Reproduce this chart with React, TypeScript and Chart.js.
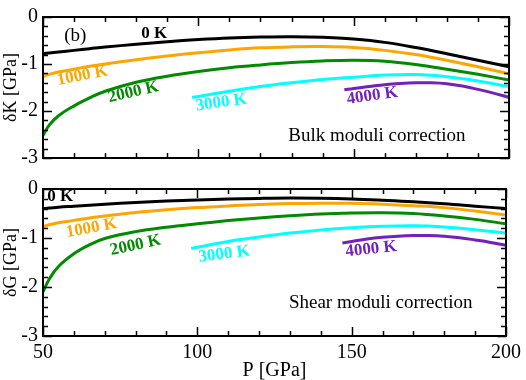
import React, { useEffect, useRef } from 'react';
import { Chart, registerables } from 'chart.js';

Chart.register(...registerables);

const FONT = '"Liberation Serif", "Times New Roman", Times, serif';

// Pressure grids (GPa)
const P_LOW = [50, 52, 55, 60, 65, 70, 80, 90, 100, 110, 120, 130, 140, 150, 160, 170, 180, 190, 200];
const P_3000 = [98, 100, 110, 120, 130, 140, 150, 160, 170, 180, 190, 200];
const P_4000 = [147, 150, 155, 160, 165, 170, 175, 180, 185, 190, 195, 200];

// Bulk moduli correction δK [GPa]
const K_0K = [-0.78, -0.765, -0.745, -0.71, -0.675, -0.64, -0.58, -0.525, -0.48, -0.445, -0.425, -0.418, -0.43, -0.47, -0.54, -0.65, -0.78, -0.92, -1.06];
const K_1000K = [-1.26, -1.22, -1.17, -1.11, -1.05, -1.0, -0.91, -0.83, -0.76, -0.7, -0.655, -0.635, -0.63, -0.65, -0.71, -0.8, -0.92, -1.06, -1.21];
const K_2000K = [-2.52, -2.3, -2.1, -1.89, -1.72, -1.58, -1.39, -1.26, -1.16, -1.08, -1.02, -0.97, -0.935, -0.92, -0.94, -1.01, -1.11, -1.22, -1.34];
const K_3000K = [-1.71, -1.69, -1.58, -1.48, -1.4, -1.33, -1.28, -1.235, -1.225, -1.27, -1.36, -1.48];
const K_4000K = [-1.55, -1.52, -1.48, -1.44, -1.415, -1.4, -1.4, -1.42, -1.47, -1.54, -1.62, -1.71];

// Shear moduli correction δG [GPa]
const G_0K = [-0.4, -0.39, -0.37, -0.35, -0.33, -0.31, -0.275, -0.245, -0.222, -0.205, -0.192, -0.185, -0.19, -0.205, -0.23, -0.26, -0.3, -0.35, -0.4];
const G_1000K = [-0.77, -0.73, -0.69, -0.64, -0.59, -0.55, -0.48, -0.425, -0.38, -0.345, -0.315, -0.298, -0.29, -0.292, -0.31, -0.34, -0.38, -0.45, -0.53];
const G_2000K = [-2.1, -1.84, -1.58, -1.32, -1.14, -1.01, -0.87, -0.78, -0.71, -0.645, -0.59, -0.545, -0.51, -0.49, -0.483, -0.5, -0.55, -0.62, -0.71];
const G_3000K = [-1.21, -1.19, -1.07, -0.98, -0.9, -0.835, -0.79, -0.762, -0.752, -0.775, -0.83, -0.9];
const G_4000K = [-1.1, -1.07, -1.02, -0.985, -0.962, -0.95, -0.95, -0.965, -0.995, -1.04, -1.09, -1.15];

const SERIES_NAMES = ['0 K', '1000 K', '2000 K', '3000 K', '4000 K'];
const COLORS = ['#000000', '#ffa500', '#008b00', '#00ffff', '#7221bc'];

const X_MIN = 50;
const X_MAX = 200;
const X_TICKS = [50, 100, 150, 200];
const Y_MIN = -3;
const Y_MAX = 0;
const Y_TICKS = [0, -1, -2, -3];

// annotation positions in data coordinates [text, P, value, rotationDeg, color, font]
const TOP_LABELS: [string, number, number, number, string, string][] = [
  ['(b)', 60.4, -0.41, 0, '#000', 'normal 19px'],
  ['0 K', 85.8, -0.35, 0, COLORS[0], 'bold 17px'],
  ['1000 K', 62.7, -1.25, -11, COLORS[1], 'bold 17px'],
  ['2000 K', 79.1, -1.6, -13, COLORS[2], 'bold 17px'],
  ['3000 K', 107.4, -1.82, -8, COLORS[3], 'bold 17px'],
  ['4000 K', 156.0, -1.68, -8, COLORS[4], 'bold 17px'],
  ['Bulk moduli correction', 157.5, -2.53, 0, '#000', 'normal 19px'],
];
const BOTTOM_LABELS: [string, number, number, number, string, string][] = [
  ['0 K', 55.6, -0.15, 0, COLORS[0], 'bold 17px'],
  ['1000 K', 65.7, -0.8, -10, COLORS[1], 'bold 17px'],
  ['2000 K', 80.0, -1.15, -12, COLORS[2], 'bold 17px'],
  ['3000 K', 108.7, -1.33, -7, COLORS[3], 'bold 17px'],
  ['4000 K', 156.3, -1.23, -6, COLORS[4], 'bold 17px'],
  ['Shear moduli correction', 159.4, -2.32, 0, '#000', 'normal 19px'],
];

function toXY(xs: number[], ys: number[]) {
  return xs.map((x, i) => ({ x, y: ys[i] }));
}

function buildDatasets(series: [number[], number[]][]) {
  return series.map(([xs, ys], i) => ({
    label: SERIES_NAMES[i],
    data: toXY(xs, ys),
    borderColor: COLORS[i],
    backgroundColor: COLORS[i],
    borderWidth: 3,
    pointRadius: 0,
    tension: 0.4,
    fill: false,
  }));
}

const framePlugin = {
  id: 'frameTicks',
  afterDatasetsDraw(chart: any) {
    const { ctx, chartArea: a, scales } = chart;
    const xs = scales.x;
    const ys = scales.y;
    ctx.save();
    ctx.strokeStyle = '#000';
    ctx.lineWidth = 1.5;
    ctx.beginPath();
    for (let v = X_MIN; v <= X_MAX; v += 10) {
      const len = v % 50 === 0 ? 9 : 5;
      const px = Math.round(xs.getPixelForValue(v)) + 0.5;
      ctx.moveTo(px, a.bottom);
      ctx.lineTo(px, a.bottom - len);
      ctx.moveTo(px, a.top);
      ctx.lineTo(px, a.top + len);
    }
    for (let i = 0; i <= 15; i++) {
      const v = -i * 0.2;
      const len = i % 5 === 0 ? 9 : 5;
      const py = Math.round(ys.getPixelForValue(v)) + 0.5;
      ctx.moveTo(a.left, py);
      ctx.lineTo(a.left + len, py);
      ctx.moveTo(a.right, py);
      ctx.lineTo(a.right - len, py);
    }
    ctx.stroke();
    ctx.lineWidth = 2;
    ctx.strokeRect(a.left, a.top, a.right - a.left, a.bottom - a.top);
    ctx.restore();
  },
};

const annotationPlugin = {
  id: 'annotations',
  afterDraw(chart: any, _args: any, opts: any) {
    const { ctx, chartArea: a, scales } = chart;
    ctx.save();
    ctx.save();
    ctx.beginPath();
    ctx.rect(a.left, a.top, a.right - a.left, a.bottom - a.top);
    ctx.clip();
    for (const [text, px, py, rot, color, font] of opts.labels as any[]) {
      const x = scales.x.getPixelForValue(px);
      const y = scales.y.getPixelForValue(py);
      ctx.save();
      ctx.translate(x, y);
      ctx.rotate((rot * Math.PI) / 180);
      ctx.font = `${font} ${FONT}`;
      ctx.fillStyle = color;
      ctx.textAlign = 'center';
      ctx.textBaseline = 'middle';
      ctx.fillText(text, 0, 0);
      ctx.restore();
    }
    ctx.restore();
    ctx.save();
    const cy = (a.top + a.bottom) / 2 + opts.yTitleShift;
    ctx.translate(11, cy);
    ctx.rotate(-Math.PI / 2);
    ctx.font = `18px ${FONT}`;
    ctx.fillStyle = '#000';
    ctx.textAlign = 'center';
    ctx.textBaseline = 'middle';
    ctx.fillText(opts.yTitle, 0, 0);
    ctx.restore();
    if (opts.xTitle) {
      ctx.font = `20px ${FONT}`;
      ctx.fillStyle = '#000';
      ctx.textAlign = 'center';
      ctx.textBaseline = 'alphabetic';
      ctx.fillText(opts.xTitle, (a.left + a.right) / 2, opts.xTitleY);
    }
    ctx.restore();
  },
};

function makeConfig(
  datasets: any[],
  labels: any[],
  yTitle: string,
  yTitleShift: number,
  showX: boolean,
  padTop: number,
  xHeight: number,
  xTitle: string,
  xTitleY: number
): any {
  return {
    type: 'line',
    data: { datasets },
    plugins: [framePlugin, annotationPlugin],
    options: {
      responsive: false,
      animation: false,
      devicePixelRatio: 1,
      layout: { padding: { top: padTop, right: 17, left: 0, bottom: 0 } },
      plugins: {
        legend: { display: false },
        tooltip: { enabled: false },
        annotations: { labels, yTitle, yTitleShift, xTitle, xTitleY },
      },
      scales: {
        x: {
          type: 'linear',
          min: X_MIN,
          max: X_MAX,
          grid: { display: false, drawTicks: false },
          border: { display: false },
          afterBuildTicks: (s: any) => {
            s.ticks = X_TICKS.map((v) => ({ value: v }));
          },
          ticks: {
            display: showX,
            padding: 5,
            color: '#000',
            maxRotation: 0,
            font: { family: FONT, size: 20 },
            callback: (v: any) => String(v),
          },
          afterFit: (s: any) => {
            s.height = xHeight;
          },
        },
        y: {
          type: 'linear',
          min: Y_MIN,
          max: Y_MAX,
          grid: { display: false, drawTicks: false },
          border: { display: false },
          afterBuildTicks: (s: any) => {
            s.ticks = Y_TICKS.map((v) => ({ value: v }));
          },
          ticks: {
            padding: 5,
            color: '#000',
            font: { family: FONT, size: 20 },
            callback: (v: any) => String(v),
          },
          afterFit: (s: any) => {
            s.width = 43;
          },
        },
      },
    },
  };
}

export default function App() {
  const topRef = useRef<HTMLCanvasElement>(null);
  const botRef = useRef<HTMLCanvasElement>(null);

  useEffect(() => {
    const topSets = buildDatasets([
      [P_LOW, K_0K],
      [P_LOW, K_1000K],
      [P_LOW, K_2000K],
      [P_3000, K_3000K],
      [P_4000, K_4000K],
    ]);
    const botSets = buildDatasets([
      [P_LOW, G_0K],
      [P_LOW, G_1000K],
      [P_LOW, G_2000K],
      [P_3000, G_3000K],
      [P_4000, G_4000K],
    ]);
    const c1 = new Chart(
      topRef.current!,
      makeConfig(topSets, TOP_LABELS, 'δK [GPa]', 0, false, 9, 13, '', 0)
    );
    const c2 = new Chart(
      botRef.current!,
      makeConfig(botSets, BOTTOM_LABELS, 'δG [GPa]', 0, true, 10, 44, 'P [GPa]', 204)
    );
    return () => {
      c1.destroy();
      c2.destroy();
    };
  }, []);

  return (
    <div style={{ position: 'absolute', left: 0, top: 0, width: 526, height: 380, background: '#fff' }}>
      <canvas ref={topRef} width={526} height={175} style={{ position: 'absolute', left: 0, top: 0 }} />
      <canvas ref={botRef} width={526} height={208} style={{ position: 'absolute', left: 0, top: 172 }} />
    </div>
  );
}
